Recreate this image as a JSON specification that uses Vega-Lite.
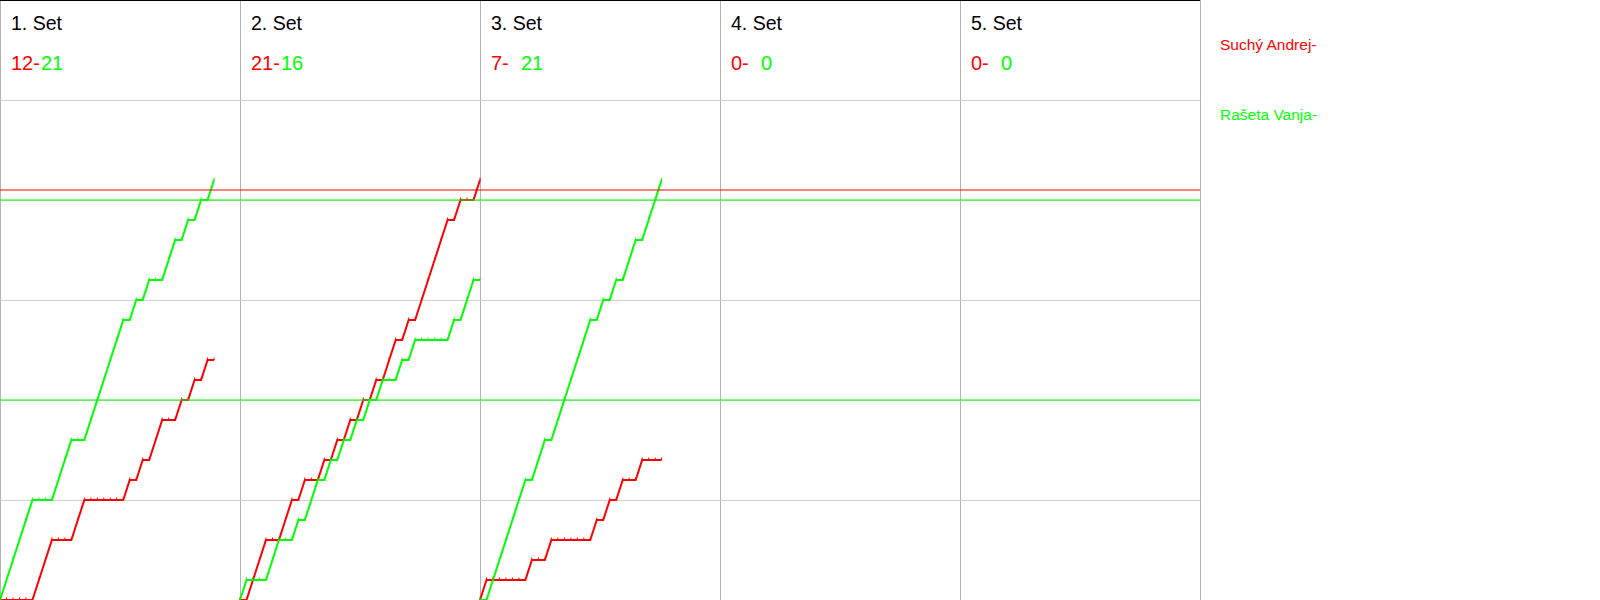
{
  "$schema": "https://vega.github.io/schema/vega-lite/v6.json",
  "autosize": {"type": "none"},
  "padding": {"left": 0, "top": 0, "right": 400, "bottom": 0},
  "width": 1200,
  "height": 600,
  "config": {
    "font": "Liberation Sans",
    "view": {"stroke": "#b4b4b4", "strokeWidth": 1},
    "axis": {"minExtent": 0, "maxExtent": 0, "labelPadding": 0, "tickSize": 0, "titlePadding": 0}
  },
  "datasets": {
    "rallies": [
      {"set":1,"rally":0,"Suchý Andrej":0,"Rašeta Vanja":0},
      {"set":1,"rally":1,"Suchý Andrej":0,"Rašeta Vanja":1},
      {"set":1,"rally":2,"Suchý Andrej":0,"Rašeta Vanja":2},
      {"set":1,"rally":3,"Suchý Andrej":0,"Rašeta Vanja":3},
      {"set":1,"rally":4,"Suchý Andrej":0,"Rašeta Vanja":4},
      {"set":1,"rally":5,"Suchý Andrej":0,"Rašeta Vanja":5},
      {"set":1,"rally":6,"Suchý Andrej":1,"Rašeta Vanja":5},
      {"set":1,"rally":7,"Suchý Andrej":2,"Rašeta Vanja":5},
      {"set":1,"rally":8,"Suchý Andrej":3,"Rašeta Vanja":5},
      {"set":1,"rally":9,"Suchý Andrej":3,"Rašeta Vanja":6},
      {"set":1,"rally":10,"Suchý Andrej":3,"Rašeta Vanja":7},
      {"set":1,"rally":11,"Suchý Andrej":3,"Rašeta Vanja":8},
      {"set":1,"rally":12,"Suchý Andrej":4,"Rašeta Vanja":8},
      {"set":1,"rally":13,"Suchý Andrej":5,"Rašeta Vanja":8},
      {"set":1,"rally":14,"Suchý Andrej":5,"Rašeta Vanja":9},
      {"set":1,"rally":15,"Suchý Andrej":5,"Rašeta Vanja":10},
      {"set":1,"rally":16,"Suchý Andrej":5,"Rašeta Vanja":11},
      {"set":1,"rally":17,"Suchý Andrej":5,"Rašeta Vanja":12},
      {"set":1,"rally":18,"Suchý Andrej":5,"Rašeta Vanja":13},
      {"set":1,"rally":19,"Suchý Andrej":5,"Rašeta Vanja":14},
      {"set":1,"rally":20,"Suchý Andrej":6,"Rašeta Vanja":14},
      {"set":1,"rally":21,"Suchý Andrej":6,"Rašeta Vanja":15},
      {"set":1,"rally":22,"Suchý Andrej":7,"Rašeta Vanja":15},
      {"set":1,"rally":23,"Suchý Andrej":7,"Rašeta Vanja":16},
      {"set":1,"rally":24,"Suchý Andrej":8,"Rašeta Vanja":16},
      {"set":1,"rally":25,"Suchý Andrej":9,"Rašeta Vanja":16},
      {"set":1,"rally":26,"Suchý Andrej":9,"Rašeta Vanja":17},
      {"set":1,"rally":27,"Suchý Andrej":9,"Rašeta Vanja":18},
      {"set":1,"rally":28,"Suchý Andrej":10,"Rašeta Vanja":18},
      {"set":1,"rally":29,"Suchý Andrej":10,"Rašeta Vanja":19},
      {"set":1,"rally":30,"Suchý Andrej":11,"Rašeta Vanja":19},
      {"set":1,"rally":31,"Suchý Andrej":11,"Rašeta Vanja":20},
      {"set":1,"rally":32,"Suchý Andrej":12,"Rašeta Vanja":20},
      {"set":1,"rally":33,"Suchý Andrej":12,"Rašeta Vanja":21},
      {"set":2,"rally":0,"Suchý Andrej":0,"Rašeta Vanja":0},
      {"set":2,"rally":1,"Suchý Andrej":0,"Rašeta Vanja":1},
      {"set":2,"rally":2,"Suchý Andrej":1,"Rašeta Vanja":1},
      {"set":2,"rally":3,"Suchý Andrej":2,"Rašeta Vanja":1},
      {"set":2,"rally":4,"Suchý Andrej":3,"Rašeta Vanja":1},
      {"set":2,"rally":5,"Suchý Andrej":3,"Rašeta Vanja":2},
      {"set":2,"rally":6,"Suchý Andrej":3,"Rašeta Vanja":3},
      {"set":2,"rally":7,"Suchý Andrej":4,"Rašeta Vanja":3},
      {"set":2,"rally":8,"Suchý Andrej":5,"Rašeta Vanja":3},
      {"set":2,"rally":9,"Suchý Andrej":5,"Rašeta Vanja":4},
      {"set":2,"rally":10,"Suchý Andrej":6,"Rašeta Vanja":4},
      {"set":2,"rally":11,"Suchý Andrej":6,"Rašeta Vanja":5},
      {"set":2,"rally":12,"Suchý Andrej":6,"Rašeta Vanja":6},
      {"set":2,"rally":13,"Suchý Andrej":7,"Rašeta Vanja":6},
      {"set":2,"rally":14,"Suchý Andrej":7,"Rašeta Vanja":7},
      {"set":2,"rally":15,"Suchý Andrej":8,"Rašeta Vanja":7},
      {"set":2,"rally":16,"Suchý Andrej":8,"Rašeta Vanja":8},
      {"set":2,"rally":17,"Suchý Andrej":9,"Rašeta Vanja":8},
      {"set":2,"rally":18,"Suchý Andrej":9,"Rašeta Vanja":9},
      {"set":2,"rally":19,"Suchý Andrej":10,"Rašeta Vanja":9},
      {"set":2,"rally":20,"Suchý Andrej":10,"Rašeta Vanja":10},
      {"set":2,"rally":21,"Suchý Andrej":11,"Rašeta Vanja":10},
      {"set":2,"rally":22,"Suchý Andrej":11,"Rašeta Vanja":11},
      {"set":2,"rally":23,"Suchý Andrej":12,"Rašeta Vanja":11},
      {"set":2,"rally":24,"Suchý Andrej":13,"Rašeta Vanja":11},
      {"set":2,"rally":25,"Suchý Andrej":13,"Rašeta Vanja":12},
      {"set":2,"rally":26,"Suchý Andrej":14,"Rašeta Vanja":12},
      {"set":2,"rally":27,"Suchý Andrej":14,"Rašeta Vanja":13},
      {"set":2,"rally":28,"Suchý Andrej":15,"Rašeta Vanja":13},
      {"set":2,"rally":29,"Suchý Andrej":16,"Rašeta Vanja":13},
      {"set":2,"rally":30,"Suchý Andrej":17,"Rašeta Vanja":13},
      {"set":2,"rally":31,"Suchý Andrej":18,"Rašeta Vanja":13},
      {"set":2,"rally":32,"Suchý Andrej":19,"Rašeta Vanja":13},
      {"set":2,"rally":33,"Suchý Andrej":19,"Rašeta Vanja":14},
      {"set":2,"rally":34,"Suchý Andrej":20,"Rašeta Vanja":14},
      {"set":2,"rally":35,"Suchý Andrej":20,"Rašeta Vanja":15},
      {"set":2,"rally":36,"Suchý Andrej":20,"Rašeta Vanja":16},
      {"set":2,"rally":37,"Suchý Andrej":21,"Rašeta Vanja":16},
      {"set":3,"rally":0,"Suchý Andrej":0,"Rašeta Vanja":0},
      {"set":3,"rally":1,"Suchý Andrej":1,"Rašeta Vanja":0},
      {"set":3,"rally":2,"Suchý Andrej":1,"Rašeta Vanja":1},
      {"set":3,"rally":3,"Suchý Andrej":1,"Rašeta Vanja":2},
      {"set":3,"rally":4,"Suchý Andrej":1,"Rašeta Vanja":3},
      {"set":3,"rally":5,"Suchý Andrej":1,"Rašeta Vanja":4},
      {"set":3,"rally":6,"Suchý Andrej":1,"Rašeta Vanja":5},
      {"set":3,"rally":7,"Suchý Andrej":1,"Rašeta Vanja":6},
      {"set":3,"rally":8,"Suchý Andrej":2,"Rašeta Vanja":6},
      {"set":3,"rally":9,"Suchý Andrej":2,"Rašeta Vanja":7},
      {"set":3,"rally":10,"Suchý Andrej":2,"Rašeta Vanja":8},
      {"set":3,"rally":11,"Suchý Andrej":3,"Rašeta Vanja":8},
      {"set":3,"rally":12,"Suchý Andrej":3,"Rašeta Vanja":9},
      {"set":3,"rally":13,"Suchý Andrej":3,"Rašeta Vanja":10},
      {"set":3,"rally":14,"Suchý Andrej":3,"Rašeta Vanja":11},
      {"set":3,"rally":15,"Suchý Andrej":3,"Rašeta Vanja":12},
      {"set":3,"rally":16,"Suchý Andrej":3,"Rašeta Vanja":13},
      {"set":3,"rally":17,"Suchý Andrej":3,"Rašeta Vanja":14},
      {"set":3,"rally":18,"Suchý Andrej":4,"Rašeta Vanja":14},
      {"set":3,"rally":19,"Suchý Andrej":4,"Rašeta Vanja":15},
      {"set":3,"rally":20,"Suchý Andrej":5,"Rašeta Vanja":15},
      {"set":3,"rally":21,"Suchý Andrej":5,"Rašeta Vanja":16},
      {"set":3,"rally":22,"Suchý Andrej":6,"Rašeta Vanja":16},
      {"set":3,"rally":23,"Suchý Andrej":6,"Rašeta Vanja":17},
      {"set":3,"rally":24,"Suchý Andrej":6,"Rašeta Vanja":18},
      {"set":3,"rally":25,"Suchý Andrej":7,"Rašeta Vanja":18},
      {"set":3,"rally":26,"Suchý Andrej":7,"Rašeta Vanja":19},
      {"set":3,"rally":27,"Suchý Andrej":7,"Rašeta Vanja":20},
      {"set":3,"rally":28,"Suchý Andrej":7,"Rašeta Vanja":21}
    ],
    "sets": [
      {"set":1,"title":"1. Set","red":"12-","green":"21"},
      {"set":2,"title":"2. Set","red":"21-","green":"16"},
      {"set":3,"title":"3. Set","red":"7-","green":"21"},
      {"set":4,"title":"4. Set","red":"0-","green":"0"},
      {"set":5,"title":"5. Set","red":"0-","green":"0"}
    ],
    "limits": [
      {"player":"Suchý Andrej","score":20.5},
      {"player":"Rašeta Vanja","score":20},
      {"player":"Rašeta Vanja","score":10}
    ],
    "players": [
      {"player":"Suchý Andrej","label":"Suchý Andrej-"},
      {"player":"Rašeta Vanja","label":"Rašeta Vanja-"}
    ]
  },
  "layer": [
    {
      "layer": [
        {
          "data": {"name": "rallies"},
          "transform": [{"fold": ["Suchý Andrej", "Rašeta Vanja"], "as": ["player", "score"]}],
          "mark": {"type": "line", "strokeWidth": 2, "point": {"shape": "M-0.25,-1.25L0.25,-1.25L0.25,0L-0.25,0Z", "size": 16, "filled": true}},
          "encoding": {
            "x": {"field": "set", "type": "ordinal",
                  "scale": {"type": "band", "domain": [1,2,3,4,5], "paddingInner": 0, "paddingOuter": 0},
                  "axis": {"title": null, "labels": false, "ticks": false, "domain": false, "grid": true, "bandPosition": 0, "gridColor": "#b4b4b4", "gridWidth": 1}},
            "xOffset": {"field": "rally", "type": "quantitative", "scale": {"domain": [0, 37], "range": [0, 240], "nice": false, "zero": true}},
            "y": {"field": "score", "type": "quantitative",
                  "scale": {"domain": [0, 30], "nice": false},
                  "axis": {"title": null, "labels": false, "ticks": false, "domain": false, "grid": true, "values": [5,10,15,20,25], "gridColor": "#d0d0d0", "gridWidth": 1}},
            "color": {"field": "player", "type": "nominal",
                      "scale": {"domain": ["Suchý Andrej", "Rašeta Vanja"], "range": ["#ff0000", "#00ff00"]}, "legend": null},
            "detail": {"field": "set"},
            "order": {"field": "rally", "type": "quantitative"}
          }
        },
        {
          "data": {"name": "limits"},
          "mark": {"type": "rule", "strokeWidth": 1},
          "encoding": {
            "y": {"field": "score", "type": "quantitative"},
            "color": {"field": "player", "type": "nominal", "legend": null}
          }
        },
        {
          "data": {"values": [{}]},
          "mark": {"type": "rule", "color": "#000000", "strokeWidth": 2},
          "encoding": {"y": {"datum": 30, "type": "quantitative"}}
        },
        {
          "data": {"name": "sets"},
          "mark": {"type": "text", "align": "left", "baseline": "alphabetic", "dx": 11, "fontSize": 19.5, "color": "#000000"},
          "encoding": {
            "x": {"field": "set", "type": "ordinal", "bandPosition": 0},
            "y": {"datum": 28.5, "type": "quantitative"},
            "text": {"field": "title"}
          }
        },
        {
          "data": {"name": "sets"},
          "mark": {"type": "text", "align": "left", "baseline": "alphabetic", "dx": 11, "fontSize": 20, "color": "#ff0000"},
          "encoding": {
            "x": {"field": "set", "type": "ordinal", "bandPosition": 0},
            "y": {"datum": 26.5, "type": "quantitative"},
            "text": {"field": "red"}
          }
        },
        {
          "data": {"name": "sets"},
          "mark": {"type": "text", "align": "left", "baseline": "alphabetic", "dx": 41, "fontSize": 20, "color": "#00ff00"},
          "encoding": {
            "x": {"field": "set", "type": "ordinal", "bandPosition": 0},
            "y": {"datum": 26.5, "type": "quantitative"},
            "text": {"field": "green"}
          }
        }
      ]
    },
    {
      "data": {"name": "players"},
      "mark": {"type": "text", "align": "left", "baseline": "alphabetic", "fontSize": 15.5},
      "encoding": {
        "x": {"datum": 1220, "type": "quantitative", "scale": {"domain": [0, 1200], "nice": false}, "axis": null},
        "y": {"field": "player", "type": "nominal", "scale": {"type": "point", "domain": ["Suchý Andrej", "Rašeta Vanja"], "range": [50, 120], "padding": 0}, "axis": null},
        "text": {"field": "label"},
        "color": {"field": "player", "type": "nominal", "legend": null}
      }
    }
  ],
  "resolve": {"scale": {"x": "independent", "y": "independent"}, "axis": {"x": "independent", "y": "independent"}}
}
